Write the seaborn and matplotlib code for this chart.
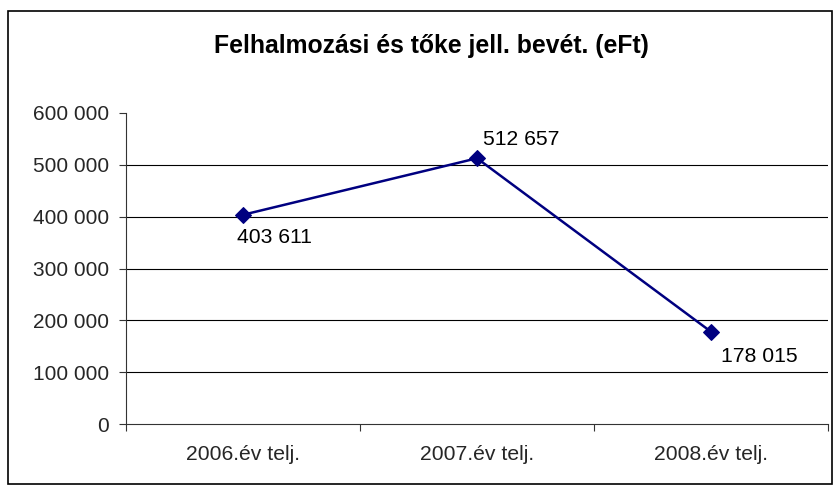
import matplotlib
matplotlib.use("Agg")
import matplotlib.pyplot as plt
import seaborn as sns
import pandas as pd
from matplotlib.patches import Rectangle

categories = ["2006.év telj.", "2007.év telj.", "2008.év telj."]
values = [403611, 512657, 178015]
value_labels = ["403 611", "512 657", "178 015"]
yticks = [0, 100000, 200000, 300000, 400000, 500000, 600000]
ytick_labels = ["0", "100 000", "200 000", "300 000", "400 000", "500 000", "600 000"]
title = "Felhalmozási és tőke jell. bevét. (eFt)"

sns.set_style("white")
plt.rcParams["font.family"] = ["Liberation Sans", "DejaVu Sans"]

df = pd.DataFrame({"cat": categories, "val": values, "x": range(len(categories))})

fig = plt.figure(figsize=(8.34, 4.86), dpi=100)
ax = fig.add_axes([126 / 834, 62 / 486, 702 / 834, 311 / 486])

for y in yticks[1:-1]:
    ax.axhline(y, color="#000000", linewidth=0.8, zorder=1)

sns.lineplot(data=df, x="x", y="val", ax=ax, color="#000080", linewidth=1.8,
             marker="D", markersize=8, markeredgecolor="#000080", zorder=3)

# label offsets in points (below / above / below the markers)
offsets = [(-4.3, -16), (4.3, 13.7), (7.2, -18)]
for x, v, lab, off in zip(df["x"], values, value_labels, offsets):
    ax.annotate(lab, (x, v), xytext=off, textcoords="offset points",
                ha="left", va="center", fontsize=15.2, color="black")

ax.set_xlim(-0.5, 2.5)
ax.set_ylim(0, 600000)
ax.set_yticks(yticks)
ax.set_yticklabels(ytick_labels, fontsize=15)
ax.set_xticks(range(len(categories)))
ax.set_xticklabels(categories, fontsize=15.2)
ax.set_xticks([-0.5, 0.5, 1.5, 2.5], minor=True)
ax.tick_params(axis="x", which="major", length=0, pad=15)
ax.tick_params(axis="x", which="minor", length=5, width=0.8, color="#333333", direction="out", bottom=True)
ax.tick_params(axis="y", length=5, width=0.8, color="#333333", direction="out", left=True, pad=7)
ax.set_xlabel("")
ax.set_ylabel("")

for s in ["top", "right"]:
    ax.spines[s].set_visible(False)
for s in ["left", "bottom"]:
    ax.spines[s].set_color("#333333")
    ax.spines[s].set_linewidth(0.8)

fig.text(431 / 834, 1 - 46 / 486, title, ha="center", va="center",
         fontsize=17.8, fontweight="bold", color="black")

fig.patches.append(Rectangle((8 / 834, 2 / 486), 824 / 834, 473 / 486,
                             transform=fig.transFigure, fill=False,
                             edgecolor="black", linewidth=1.2))

fig.savefig("out.png", dpi=100)
